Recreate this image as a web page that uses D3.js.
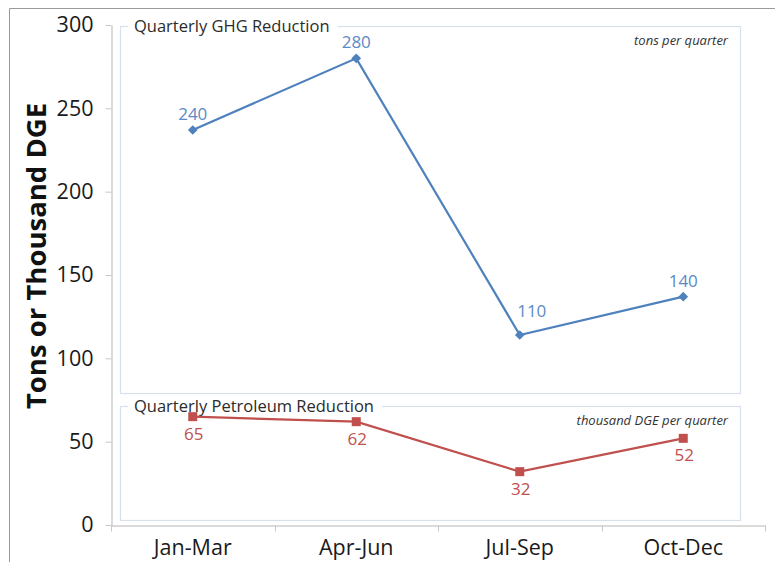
<!DOCTYPE html>
<html>
<head>
<meta charset="utf-8">
<script src="https://cdn.jsdelivr.net/npm/d3@7"></script>
<style>
  body { margin: 0; background: #fff; }
  text { font-family: "Open Sans", Lato, sans-serif; }
</style>
</head>
<body>
<script>
const categories = ["Jan-Mar", "Apr-Jun", "Jul-Sep", "Oct-Dec"];
const ghgValues = [237, 280, 114, 137];
const ghgLabels = ["240", "280", "110", "140"];
const petroValues = [65, 62, 32, 52];
const petroLabels = ["65", "62", "32", "52"];
const yTicks = [0, 50, 100, 150, 200, 250, 300];

const w = 775;
const h = 562;
const font = "'Open Sans', Lato, sans-serif";

const blue = "#4f81bd";
const blueText = "#5b8ac6";
const red = "#c0504d";
const panelStroke = "#d8e0eb";

const xScale = d3.scaleBand().domain(categories).range([111, 765]);
const yScale = d3.scaleLinear().domain([0, 300]).range([525, 25]);
const cx = (d) => xScale(d) + xScale.bandwidth() / 2;

const svg = d3.select("body").append("svg").attr("width", w).attr("height", h);

// outer frame
svg.append("path")
  .attr("d", `M9.5,${h} V8.5 H${w}`)
  .attr("fill", "none")
  .attr("stroke", "#9a9a9a")
  .attr("stroke-width", 1);

// panels
const panels = [
  { top: 26, bottom: 393, title: "Quarterly GHG Reduction", unit: "tons per quarter" },
  { top: 406, bottom: 520, title: "Quarterly Petroleum Reduction", unit: "thousand DGE per quarter" }
];
panels.forEach((p) => {
  svg.append("rect")
    .attr("x", 120.5).attr("y", p.top + 0.5)
    .attr("width", 620).attr("height", p.bottom - p.top)
    .attr("fill", "none")
    .attr("stroke", panelStroke)
    .attr("stroke-width", 1.2);
  const bg = svg.append("rect").attr("fill", "#fff");
  const t = svg.append("text")
    .attr("x", 134).attr("y", p.top + 6)
    .attr("font-size", 16.5)
    .attr("fill", "#2b2b2b")
    .text(p.title);
  const tw = t.node().getComputedTextLength();
  bg.attr("x", 128).attr("y", p.top - 4).attr("width", tw + 14).attr("height", 9);
  svg.append("text")
    .attr("x", 728).attr("y", p.top + 19)
    .attr("text-anchor", "end")
    .attr("font-size", 13)
    .attr("font-style", "italic")
    .attr("fill", "#333")
    .text(p.unit);
});

// y axis
const yAxis = d3.axisLeft(yScale).tickValues(yTicks).tickSize(6).tickSizeOuter(0).tickPadding(12);
const gy = svg.append("g").attr("transform", "translate(111.5,0)").call(yAxis);
gy.select(".domain").attr("stroke", "#b5b5b5");
gy.selectAll(".tick line").attr("stroke", "#c8c8c8");
gy.selectAll(".tick text").attr("font-size", 21.5).attr("fill", "#1a1a1a").style("font-family", font);

// x axis
const xAxis = d3.axisBottom(xScale).tickSize(0).tickPadding(14);
const gx = svg.append("g").attr("transform", "translate(0,525.5)").call(xAxis);
gx.select(".domain").attr("stroke", "#b5b5b5");
gx.selectAll(".tick text").attr("font-size", 21.5).attr("fill", "#1a1a1a").style("font-family", font);
const bounds = categories.map((c) => xScale(c)).concat([xScale.range()[1]]);
gx.selectAll(".bound")
  .data(bounds)
  .enter()
  .append("line")
  .attr("x1", (d) => Math.round(d) + 0.5).attr("x2", (d) => Math.round(d) + 0.5)
  .attr("y1", 0).attr("y2", 6)
  .attr("stroke", "#c8c8c8");

// y title
svg.append("text")
  .attr("transform", "translate(46,256) rotate(-90)")
  .attr("text-anchor", "middle")
  .attr("font-size", 27.5)
  .attr("font-weight", "bold")
  .attr("fill", "#111")
  .text("Tons or Thousand DGE");

const line = d3.line().x((d, i) => cx(categories[i])).y((d) => yScale(d));

// GHG series
svg.append("path")
  .attr("d", line(ghgValues))
  .attr("fill", "none")
  .attr("stroke", blue)
  .attr("stroke-width", 2.2);
svg.selectAll(".ghg-pt")
  .data(ghgValues)
  .enter()
  .append("path")
  .attr("d", d3.symbol(d3.symbolDiamond2, 60))
  .attr("transform", (d, i) => `translate(${cx(categories[i])},${yScale(d)})`)
  .attr("fill", blue);
svg.selectAll(".ghg-lbl")
  .data(ghgValues)
  .enter()
  .append("text")
  .attr("x", (d, i) => cx(categories[i]) + (i === 2 ? 12 : 0))
  .attr("y", (d, i) => yScale(d) - (i === 2 ? 18 : 10))
  .attr("text-anchor", "middle")
  .attr("font-size", 17)
  .attr("fill", blueText)
  .text((d, i) => ghgLabels[i]);

// petroleum series
svg.append("path")
  .attr("d", line(petroValues))
  .attr("fill", "none")
  .attr("stroke", red)
  .attr("stroke-width", 2.2);
svg.selectAll(".pet-pt")
  .data(petroValues)
  .enter()
  .append("rect")
  .attr("x", (d, i) => cx(categories[i]) - 4.5)
  .attr("y", (d) => yScale(d) - 4.5)
  .attr("width", 9).attr("height", 9)
  .attr("fill", red);
svg.selectAll(".pet-lbl")
  .data(petroValues)
  .enter()
  .append("text")
  .attr("x", (d, i) => cx(categories[i]) + 1)
  .attr("y", (d) => yScale(d) + 23)
  .attr("text-anchor", "middle")
  .attr("font-size", 17)
  .attr("fill", red)
  .text((d, i) => petroLabels[i]);
</script>
</body>
</html>
